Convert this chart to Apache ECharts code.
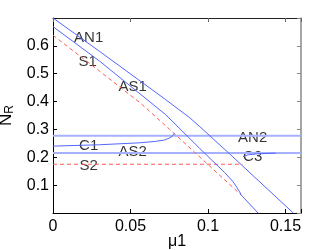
<!DOCTYPE html>
<html><head><meta charset="utf-8">
<script src="https://cdn.jsdelivr.net/npm/echarts@6/dist/echarts.min.js"></script>
<style>html,body{margin:0;padding:0;background:#fff}#c{width:332px;height:250px}</style>
</head><body><div id="c"></div>
<script>
// x: mu1, y: N_R
const AN1 = [[0,0.700],[0.0301,0.580],[0.0727,0.407],[0.0882,0.342],[0.0947,0.310],[0.1140,0.212],[0.1550,0.000]];
const AS1 = [[0,0.669],[0.0301,0.545],[0.0727,0.353],[0.0946,0.232],[0.1108,0.145],[0.1159,0.114],[0.1184,0.094],[0.1204,0.076],[0.1215,0.064],[0.1323,0.000]];
const S1 = [[0,0.638],[0.0301,0.509],[0.0570,0.392],[0.0753,0.300],[0.0957,0.196],[0.1215,0.064]];
const S2 = [[0,0.175],[0.1222,0.175]];
const AN2 = [[0,0.277],[0.16,0.277]];
const AS2 = [[0,0.2155],[0.16,0.2155]];
const C1 = [[0,0.240],[0.030,0.245],[0.056,0.252],[0.066,0.257],[0.072,0.262],[0.0755,0.270],[0.0775,0.279],[0.0785,0.287]];
const C3 = [[0.1225,0.2023],[0.1260,0.2090],[0.1320,0.2125],[0.1437,0.2148]];
const labelNames = ['AN1','S1','AS1','C1','AS2','S2','AN2','C3'];
const labelX = [0.023,0.0224,0.0514,0.023,0.0514,0.023,0.1288,0.1288];
const labelY = [0.627,0.544,0.454,0.241,0.219,0.169,0.270,0.201];
const xTicks = [0,0.05,0.1,0.15];
const yTicks = [0.1,0.2,0.3,0.4,0.5,0.6];

const FONT = 'Liberation Sans, Arial, Helvetica, sans-serif';
const blue = '#5466ff';
const blueH = '#a6b0ff';
const red = '#ff5a5a';
function fmtX(v){ for(const t of xTicks){ if(Math.abs(v-t)<1e-6) return String(t);} return ''; }
function fmtY(v){ for(const t of yTicks){ if(Math.abs(v-t)<1e-6) return String(t);} return ''; }
function line(data, color, width, dashed){
  return {type:'line', data, symbol:'none', silent:true, xAxisIndex:0, yAxisIndex:0,
    lineStyle:{color, width, type: dashed ? [4,3] : 'solid'}, animation:false};
}
const chart = echarts.init(document.getElementById('c'), null, {renderer:'canvas'});
chart.setOption({
  animation:false,
  grid:{left:53, right:31, top:18, bottom:37, containLabel:false, outerBoundsMode:'none'},
  xAxis:[
    {type:'value', min:0, max:0.16, interval:0.05, position:'bottom',
     name:'μ1', nameLocation:'middle', nameGap:21, nameMoveOverlap:false,
     nameTextStyle:{fontFamily:FONT, fontSize:16, color:'#000'},
     axisLine:{onZero:false, lineStyle:{color:'#000', width:1}},
     axisTick:{inside:true, length:4, lineStyle:{color:'#000'}},
     axisLabel:{formatter:fmtX, fontFamily:FONT, fontSize:16, color:'#000', margin:6},
     splitLine:{show:false}},
    {type:'value', min:0, max:0.16, interval:0.05, position:'top',
     axisLine:{onZero:false, lineStyle:{color:'#222', width:1}},
     axisTick:{inside:true, length:4, lineStyle:{color:'#666'}},
     axisLabel:{show:false}, splitLine:{show:false}}
  ],
  yAxis:[
    {type:'value', min:0, max:0.7, interval:0.1, position:'left',
     name:'{n|N}{r|R}', nameLocation:'middle', nameGap:37, nameRotate:90, nameMoveOverlap:false,
     nameTextStyle:{fontFamily:FONT, color:'#000',
       rich:{n:{fontFamily:FONT, fontSize:17, color:'#000', lineHeight:20, verticalAlign:'middle'},
             r:{fontFamily:FONT, fontSize:12, color:'#000', lineHeight:20, verticalAlign:'bottom', padding:[10,0,0,0]}}},
     axisLine:{onZero:false, lineStyle:{color:'#000', width:1}},
     axisTick:{inside:true, length:4, lineStyle:{color:'#000'}},
     axisLabel:{formatter:fmtY, fontFamily:FONT, fontSize:16, color:'#000', margin:4},
     splitLine:{show:false}},
    {type:'value', min:0, max:0.7, interval:0.1, position:'right',
     axisLine:{onZero:false, lineStyle:{color:'#888', width:1.5}},
     axisTick:{inside:true, length:4, lineStyle:{color:'#888'}},
     axisLabel:{show:false}, splitLine:{show:false}}
  ],
  series:[
    line(AN2, blueH, 2, false),
    line(AS2, blueH, 2, false),
    line(S2, red, 1, true),
    line(S1, red, 1, true),
    line(AN1, blue, 1, false),
    line(AS1, blue, 1, false),
    line(C1, blue, 1, false),
    line(C3, blue, 1, false),
    {type:'scatter', symbolSize:0, silent:true, animation:false,
     data: labelNames.map((n,i)=>({name:n, value:[labelX[i], labelY[i]]})),
     label:{show:true, position:'inside', formatter:p=>p.name, fontFamily:FONT, fontSize:15, color:'#000'}}
  ]
});
</script></body></html>
